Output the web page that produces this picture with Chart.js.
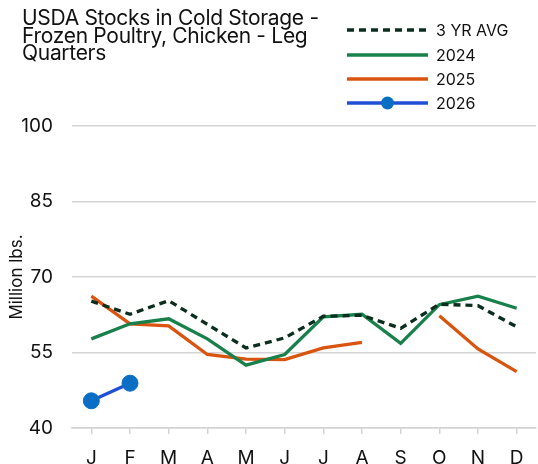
<!DOCTYPE html>
<html>
<head>
<meta charset="utf-8">
<script src="https://cdn.jsdelivr.net/npm/chart.js@4.4.1/dist/chart.umd.min.js"></script>
<style>
  html, body { margin: 0; padding: 0; background: #fff; }
  #wrap { position: relative; width: 538px; height: 464px; }
  #tytul {
    position: absolute; left: 22px; top: 9px;
    font-family: Inter, "Noto Sans", sans-serif; font-size: 21px; line-height: 17.5px;
    color: #111; letter-spacing: -0.3px;
  }
</style>
</head>
<body>
<div id="wrap">
  <canvas id="wykres" width="538" height="464"></canvas>
  <div id="tytul">USDA Stocks in Cold Storage -<br>Frozen Poultry, Chicken - Leg<br>Quarters</div>
</div>
<script>
const miesiace = ['J', 'F', 'M', 'A', 'M', 'J', 'J', 'A', 'S', 'O', 'N', 'D'];
const srednia3lata = [65.2, 62.6, 65.3, 60.6, 55.9, 57.9, 62.2, 62.4, 59.8, 64.6, 64.3, 60.1];
const rok2024 = [57.7, 60.7, 61.7, 57.7, 52.5, 54.6, 62.1, 62.6, 56.8, 64.5, 66.2, 63.8];
const rok2025 = [66.2, 60.7, 60.3, 54.6, 53.7, 53.6, 55.9, 57.0, null, 62.3, 55.7, 51.2];
const rok2026 = [45.4, 48.9, null, null, null, null, null, null, null, null, null, null];
const osY = [40, 55, 70, 85, 100];

const czcionka = 'Inter, "Noto Sans", sans-serif';

// legenda rysowana recznie w prawym gornym rogu
const legendaPlugin = {
    id: 'legendaReczna',
    afterDraw(chart) {
        const ctx = chart.ctx;
        const x0 = 347, x1 = 428, tx = 436;
        const wiersze = [30, 55, 79, 103];
        chart.data.datasets.forEach((ds, i) => {
            const y = wiersze[i];
            ctx.save();
            ctx.strokeStyle = ds.borderColor;
            ctx.lineWidth = 3.3;
            ctx.setLineDash(ds.borderDash || []);
            ctx.beginPath();
            ctx.moveTo(x0, y);
            ctx.lineTo(x1, y);
            ctx.stroke();
            if (ds.pointRadius > 0) {
                ctx.setLineDash([]);
                ctx.fillStyle = ds.pointBackgroundColor;
                ctx.beginPath();
                ctx.arc((x0 + x1) / 2, y, 6.5, 0, Math.PI * 2);
                ctx.fill();
            }
            ctx.fillStyle = '#111';
            ctx.font = '16px ' + czcionka;
            ctx.textBaseline = 'middle';
            ctx.fillText(ds.label, tx, y + 1);
            ctx.restore();
        });
    }
};

const ctx = document.getElementById('wykres').getContext('2d');
new Chart(ctx, {
    type: 'line',
    data: {
        labels: miesiace,
        datasets: [
            {
                label: '3 YR AVG',
                data: srednia3lata,
                borderColor: '#0c2e1f',
                borderWidth: 3.3,
                borderDash: [7, 5],
                pointRadius: 0,
                tension: 0
            },
            {
                label: '2024',
                data: rok2024,
                borderColor: '#17804b',
                borderWidth: 3.3,
                pointRadius: 0,
                tension: 0
            },
            {
                label: '2025',
                data: rok2025,
                borderColor: '#d9540e',
                borderWidth: 3.3,
                pointRadius: 0,
                tension: 0
            },
            {
                label: '2026',
                data: rok2026,
                borderColor: '#1f4fd6',
                borderWidth: 3.3,
                pointRadius: 8,
                pointBorderWidth: 1,
                pointBackgroundColor: '#0a6ec4',
                pointBorderColor: '#0a6ec4',
                tension: 0
            }
        ]
    },
    options: {
        responsive: false,
        animation: false,
        layout: { autoPadding: false, padding: { top: 126, right: 2, left: 8, bottom: 0 } },
        plugins: {
            legend: { display: false },
            title: { display: false },
            tooltip: { enabled: false }
        },
        scales: {
            x: {
                offset: true,
                afterFit: (os) => { os.height = 36; os.paddingLeft = 0; os.paddingRight = 0; },
                grid: { drawOnChartArea: false, color: '#d4d4d4', lineWidth: 1.5, tickLength: 6 },
                border: { color: '#d4d4d4', width: 1.5 },
                ticks: { color: '#111', font: { family: czcionka, size: 19, lineHeight: 1 }, padding: 15 }
            },
            y: {
                min: 40,
                max: 100,
                afterBuildTicks: (os) => { os.ticks = osY.map(v => ({ value: v })); },
                afterFit: (os) => { os.width = 64; },
                grid: { color: '#d4d4d4', lineWidth: 1.5, drawTicks: false },
                border: { display: false },
                ticks: { color: '#111', font: { family: czcionka, size: 19 }, padding: 19 },
                title: { display: true, text: 'Million lbs.', color: '#111', font: { family: czcionka, size: 17, lineHeight: 1 }, padding: 0 }
            }
        }
    },
    plugins: [legendaPlugin]
});
</script>
</body>
</html>
